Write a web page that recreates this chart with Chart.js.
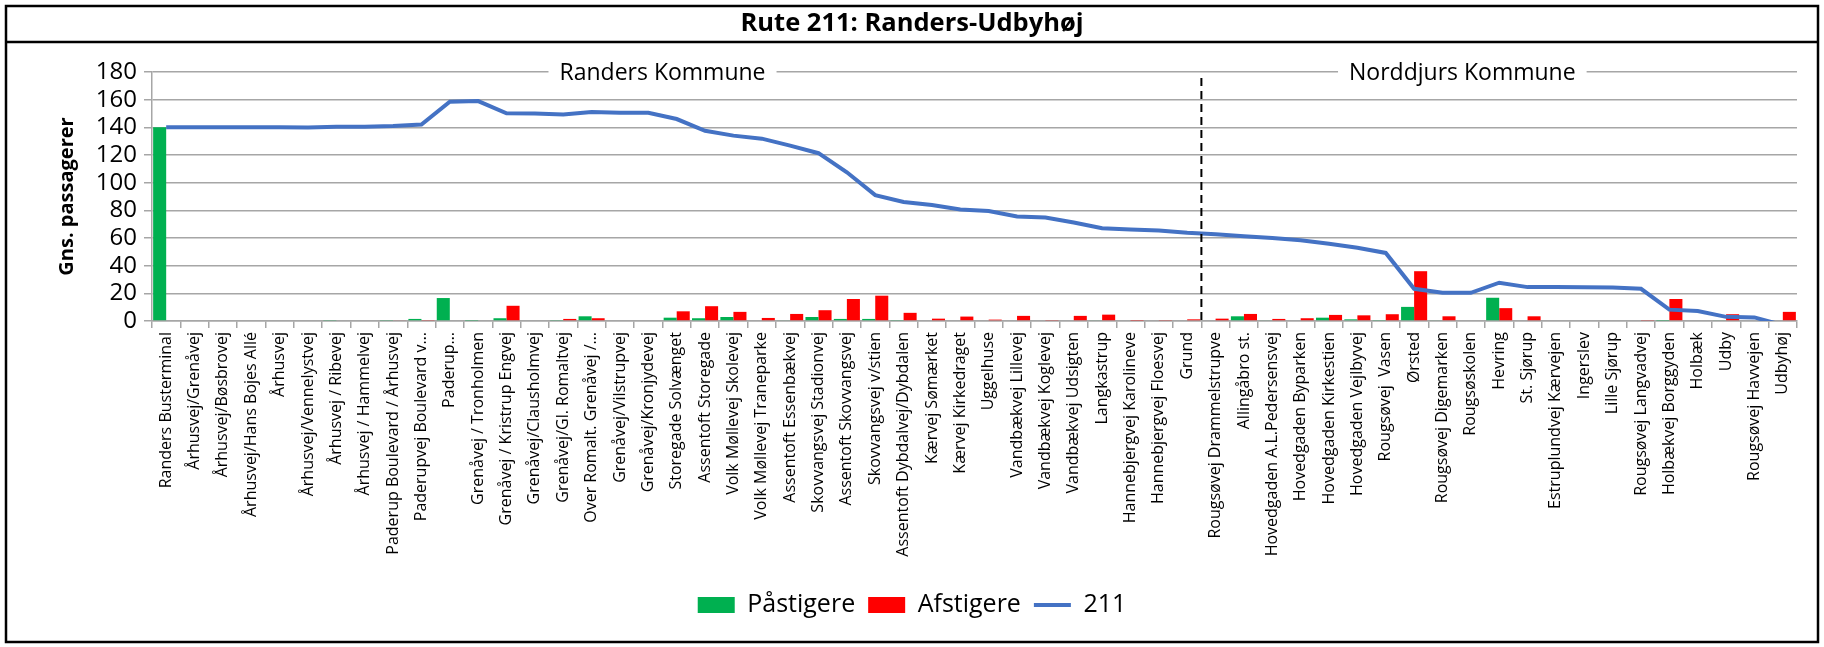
<!DOCTYPE html>
<html lang="da">
<head>
<meta charset="utf-8">
<title>Rute 211: Randers-Udbyhøj</title>
<script src="https://cdn.jsdelivr.net/npm/chart.js@4.4.1/dist/chart.umd.min.js"></script>
<style>
  html, body { margin: 0; padding: 0; background: #fff; }
  #wrap { width: 1824px; height: 647px; }
</style>
</head>
<body>
<div id="wrap"><canvas id="chart" width="1824" height="647"></canvas></div>
<script>
// Stoppesteder langs rute 211
const stops = [
  'Randers Busterminal', 'Århusvej/Grenåvej', 'Århusvej/Bøsbrovej', 'Århusvej/Hans Bojes Allé',
  'Århusvej', 'Århusvej/Vennelystvej', 'Århusvej / Ribevej', 'Århusvej / Hammelvej',
  'Paderup Boulevard / Århusvej', 'Paderupvej Boulevard v…', 'Paderup…', 'Grenåvej / Tronholmen',
  'Grenåvej / Kristrup Engvej', 'Grenåvej/Clausholmvej', 'Grenåvej/Gl. Romaltvej', 'Over Romalt. Grenåvej /…',
  'Grenåvej/Vilstrupvej', 'Grenåvej/Kronjydevej', 'Storegade Solvænget', 'Assentoft Storegade',
  'Volk Møllevej Skolevej', 'Volk Møllevej Traneparke', 'Assentoft Essenbækvej', 'Skovvangsvej Stadionvej',
  'Assentoft Skovvangsvej', 'Skovvangsvej v/stien', 'Assentoft Dybdalvej/Dybdalen', 'Kærvej Sømærket',
  'Kærvej Kirkedraget', 'Uggelhuse', 'Vandbækvej Lillevej', 'Vandbækvej Koglevej',
  'Vandbækvej Udsigten', 'Langkastrup', 'Hannebjergvej Karolineve', 'Hannebjergvej Floesvej',
  'Grund', 'Rougsøvej Drammelstrupve', 'Allingåbro st.', 'Hovedgaden A.L.Pedersensvej',
  'Hovedgaden Byparken', 'Hovedgaden Kirkestien', 'Hovedgaden Vejlbyvej', 'Rougsøvej  Vasen',
  'Ørsted', 'Rougsøvej Digemarken', 'Rougsøskolen', 'Hevring',
  'St. Sjørup', 'Estruplundvej Kærvejen', 'Ingerslev', 'Lille Sjørup',
  'Rougsøvej Langvadvej', 'Holbækvej Borggyden', 'Holbæk', 'Udby',
  'Rougsøvej Havvejen', 'Udbyhøj'
];

const paastigere = [
  140, 0, 0, 0, 0, 0, 0.7, 0, 0.7, 1.5, 16.6, 0.3, 2, 0, 0.7, 3.4, 0, 0, 2.4, 2,
  2.9, 0, 0.5, 2.9, 1.5, 1.5, 0.7, 0, 0, 0, 0, 0, 0, 0.5, 0, 0, 0, 0, 3.4, 0.5,
  0, 2.4, 1.2, 0.7, 10.2, 0.5, 0, 16.8, 0, 0, 0, 0, 0, 0.3, 0, 0.5, 0, 0
];

const afstigere = [
  0, 0, 0, 0, 0, 0, 0, 0, 0.5, 0.7, 0, 0, 11, 0, 1.5, 2, 0, 0, 7, 10.7,
  6.6, 2.2, 5.1, 7.8, 15.9, 18.3, 5.9, 1.7, 3.2, 1, 3.7, 0.7, 3.7, 4.6, 0.3, 0.7, 1.2, 1.7, 5.1, 1.5,
  2, 4.4, 4.1, 4.9, 36, 3.4, 0, 9.3, 3.4, 0, 0, 0, 0.7, 15.9, 0, 4.9, 0, 6.6
];

// Gns. passagerer i bussen efter hvert stop
const rute211 = [
  140, 140, 140, 140, 140, 139.8, 140.5, 140.5, 141, 142, 158.5, 159, 150.2, 150, 149.3, 151, 150.5, 150.5, 146, 137.5,
  134, 131.8, 126.8, 121.3, 107.5, 91, 86, 83.8, 80.6, 79.5, 75.5, 74.8, 71.2, 67, 66.2, 65.5, 63.8, 62.7, 61.3, 60,
  58.3, 55.8, 53, 49.2, 23.3, 20.5, 20.4, 27.7, 24.5, 24.5, 24.4, 24.3, 23.3, 8.2, 7.2, 3, 2.6, -3
];

const yMin = 0, yMax = 180, yStep = 20;
const kommuner = ['Randers Kommune', 'Norddjurs Kommune'];
const graense = 'Grund'; // sidste stop i Randers Kommune

const GRID = '#a6a6a6';
const FONT = "'Open Sans', sans-serif";

Chart.defaults.font.family = FONT;
Chart.defaults.color = '#000';

// hvid baggrund, ramme og linje under titlen
const frame = {
  id: 'frame',
  beforeDraw(chart) {
    const c = chart.ctx;
    c.save();
    c.fillStyle = '#fff';
    c.fillRect(0, 0, chart.width, chart.height);
    c.restore();
  },
  afterDraw(chart) {
    const c = chart.ctx;
    c.save();
    c.strokeStyle = '#000';
    c.lineWidth = 2.5;
    c.strokeRect(6, 6, chart.width - 12, chart.height - 11);
    c.beginPath();
    c.moveTo(6, 42);
    c.lineTo(chart.width - 6, 42);
    c.stroke();
    c.restore();
  }
};

// kommunegrænse (stiplet) og kommunenavne på 180-linjen
const kommuneMarks = {
  id: 'kommuneMarks',
  afterDraw(chart, args, opts) {
    const c = chart.ctx;
    const x = chart.scales.x, y = chart.scales.y;
    const bx = x.getPixelForValue(stops.indexOf(graense) + 0.5);
    c.save();
    c.strokeStyle = '#000';
    c.lineWidth = 2;
    c.setLineDash([8, 5]);
    c.beginPath();
    c.moveTo(bx, y.getPixelForValue(yMax) + 6);
    c.lineTo(bx, y.getPixelForValue(yMin));
    c.stroke();
    c.setLineDash([]);

    c.font = '23px ' + FONT;
    c.textAlign = 'center';
    c.textBaseline = 'middle';
    const ty = y.getPixelForValue(yMax);
    opts.labels.forEach(l => {
      const cx = x.getPixelForValue(l.at);
      const w = c.measureText(l.text).width + 22;
      c.fillStyle = '#fff';
      c.fillRect(cx - w / 2, ty - 4, w, 8);
      c.fillStyle = '#000';
      c.fillText(l.text, cx, ty + 1);
    });
    c.restore();
  }
};

new Chart(document.getElementById('chart'), {
  type: 'bar',
  data: {
    labels: stops,
    datasets: [
      { label: 'Påstigere', data: paastigere, backgroundColor: '#00b050', pointStyle: 'rect', order: 2 },
      { label: 'Afstigere', data: afstigere, backgroundColor: '#ff0000', pointStyle: 'rect', order: 2 },
      {
        type: 'line', label: '211', data: rute211,
        borderColor: '#4472c4', backgroundColor: '#4472c4', borderWidth: 4,
        pointRadius: 0, tension: 0, pointStyle: 'line', order: 1
      }
    ]
  },
  options: {
    responsive: false,
    animation: false,
    layout: { padding: { left: 27, right: 27, top: 0, bottom: 19.5 } },
    datasets: { bar: { categoryPercentage: 0.92, barPercentage: 1.0 } },
    scales: {
      x: {
        grid: { drawOnChartArea: false, drawTicks: true, tickLength: 7, color: GRID, lineWidth: 1.5 },
        border: { color: GRID, width: 1.5 },
        ticks: { autoSkip: false, maxRotation: 90, minRotation: 90, font: { size: 16 }, padding: 4 },
        afterFit(s) { s.height = 258.5; }
      },
      y: {
        min: yMin, max: yMax,
        ticks: { stepSize: yStep, autoSkip: false, font: { size: 24 }, padding: 7 },
        grid: { color: GRID, lineWidth: 1.5, tickLength: 8 },
        border: { color: GRID, width: 1.5 },
        title: { display: true, text: 'Gns. passagerer', font: { size: 20, weight: 'bold' }, padding: { top: 28, bottom: 0 } },
        afterFit(s) { s.width = 125; }
      }
    },
    plugins: {
      title: {
        display: true, text: 'Rute 211: Randers-Udbyhøj',
        font: { size: 25.5, weight: 'bold' }, color: '#000',
        padding: { top: 8, bottom: 33.4 }
      },
      legend: {
        position: 'bottom',
        labels: {
          usePointStyle: true, pointStyleWidth: 37, boxHeight: 16, font: { size: 25 }, padding: 13,
          sort: (a, b) => a.datasetIndex - b.datasetIndex
        }
      },
      tooltip: { enabled: false },
      kommuneMarks: {
        labels: [
          { text: kommuner[0], at: 17.5 },
          { text: kommuner[1], at: 45.7 }
        ]
      }
    }
  },
  plugins: [frame, kommuneMarks]
});
</script>
</body>
</html>
